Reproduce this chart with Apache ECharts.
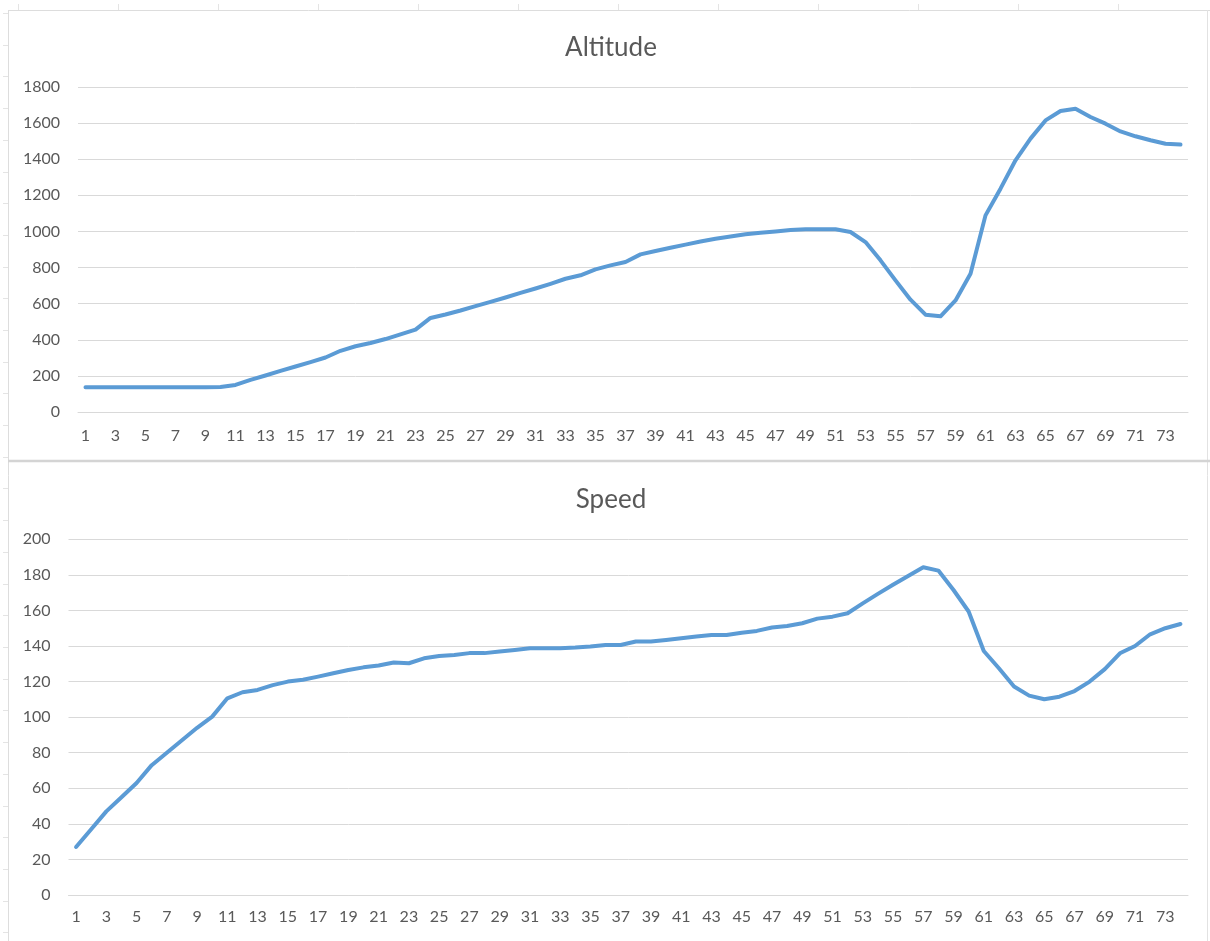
<!DOCTYPE html>
<html>
<head>
<meta charset="utf-8">
<script src="https://cdn.jsdelivr.net/npm/echarts@6/dist/echarts.min.js"></script>
<style>
  html, body { margin: 0; padding: 0; background: #ffffff; }
  #chart { width: 1210px; height: 941px; }
</style>
</head>
<body>
<div id="chart"></div>
<script>
// Sample index 1..74 shared by both panels
const categories = Array.from({ length: 74 }, (_, i) => String(i + 1));

// Altitude per sample
const altitude = [
  137, 137, 137, 137, 137, 137, 137, 137, 137, 138,
  150, 178, 202, 228, 252, 276, 302, 339, 364, 382,
  404, 430, 456, 521, 540, 562, 586, 610, 634, 660,
  684, 710, 738, 757, 790, 812, 831, 873, 892, 910,
  927, 944, 960, 972, 984, 993, 1000, 1008, 1012, 1012,
  1012, 997, 941, 840, 729, 622, 539, 530, 618, 766,
  1089, 1237, 1394, 1514, 1615, 1667, 1680, 1634, 1597, 1554,
  1527, 1505, 1486, 1481
];

// Speed per sample
const speed = [
  27, 37, 47, 55, 63, 73, 80, 87, 94, 100.3,
  110.6, 114, 115.3, 118, 120, 121, 122.8, 124.7, 126.5, 128,
  129, 130.7, 130.3, 133.1, 134.4, 135, 136, 136, 136.9, 137.8,
  138.7, 138.7, 138.7, 139.1, 139.7, 140.6, 140.6, 142.5, 142.5, 143.4,
  144.4, 145.3, 146.2, 146.2, 147.5, 148.5, 150.4, 151.3, 152.8, 155.4,
  156.5, 158.4, 164, 169.3, 174.4, 179.4, 184.3, 182.4, 171.5, 159.4,
  137.2, 127.5, 117.2, 112.1, 110.1, 111.5, 114.7, 120, 127, 135.9,
  140, 146.6, 150, 152.4
];

const panelTitles = ['Altitude', 'Speed'];

const FONT = 'Lato, "Open Sans", sans-serif';
const TEXT = '#595959';
const GRID = '#D9D9D9';
const LINE = '#5B9BD5';

const chart = echarts.init(document.getElementById('chart'), null, { renderer: 'canvas' });

function xAxis(gridIndex, margin) {
  return {
    type: 'category',
    gridIndex,
    data: categories,
    boundaryGap: true,
    axisLine: { show: true, lineStyle: { color: GRID, width: 1 } },
    axisTick: { show: false },
    axisLabel: { interval: 1, color: TEXT, fontFamily: FONT, fontSize: 16, margin }
  };
}

function yAxis(gridIndex, max, interval) {
  return {
    type: 'value',
    gridIndex,
    min: 0,
    max,
    interval,
    axisLine: { show: false },
    axisTick: { show: false },
    splitLine: { show: true, lineStyle: { color: GRID, width: 1 } },
    axisLabel: { color: TEXT, fontFamily: FONT, fontSize: 16, margin: 18, formatter: v => String(v) }
  };
}

function panelTitle(text, top) {
  return {
    text, left: 606, textAlign: 'center', top,
    textStyle: { color: TEXT, fontFamily: FONT, fontSize: 26, fontWeight: 'normal' }
  };
}

// Worksheet-style frame: panel borders, separator and faint cell ticks
const frame = [];
const faint = { stroke: '#E4E4E4', lineWidth: 1 };
frame.push({ type: 'line', shape: { x1: 8, y1: 10.5, x2: 1210, y2: 10.5 }, style: { stroke: '#DDDDDD', lineWidth: 1 } });
frame.push({ type: 'line', shape: { x1: 8.5, y1: 10, x2: 8.5, y2: 941 }, style: { stroke: '#DDDDDD', lineWidth: 1 } });
frame.push({ type: 'line', shape: { x1: 1207.5, y1: 10, x2: 1207.5, y2: 941 }, style: { stroke: '#E2E2E2', lineWidth: 1 } });
frame.push({ type: 'line', shape: { x1: 8, y1: 461, x2: 1210, y2: 461 }, style: { stroke: '#D4D4D4', lineWidth: 2.5 } });
for (let x = 18; x < 1210; x += 100) {
  frame.push({ type: 'line', shape: { x1: x + 0.5, y1: 4, x2: x + 0.5, y2: 10 }, style: faint });
}
for (let y = 13; y < 941; y += 31.7) {
  frame.push({ type: 'line', shape: { x1: 3, y1: Math.round(y) + 0.5, x2: 8, y2: Math.round(y) + 0.5 }, style: faint });
}

const option = {
  backgroundColor: '#ffffff',
  animation: false,
  title: [panelTitle(panelTitles[0], 30), panelTitle(panelTitles[1], 482)],
  grid: [
    { left: 78, right: 22, top: 87, height: 325 },
    { left: 68.5, right: 22, top: 539.3, height: 355.7 }
  ],
  xAxis: [xAxis(0, 16), xAxis(1, 14)],
  yAxis: [yAxis(0, 1800, 200), yAxis(1, 200, 20)],
  series: [
    {
      name: panelTitles[0], type: 'line', xAxisIndex: 0, yAxisIndex: 0,
      data: altitude, showSymbol: false, smooth: false,
      lineStyle: { color: LINE, width: 4, cap: 'round', join: 'round' }
    },
    {
      name: panelTitles[1], type: 'line', xAxisIndex: 1, yAxisIndex: 1,
      data: speed, showSymbol: false, smooth: false,
      lineStyle: { color: LINE, width: 4, cap: 'round', join: 'round' }
    }
  ],
  graphic: frame
};

chart.setOption(option);
</script>
</body>
</html>
